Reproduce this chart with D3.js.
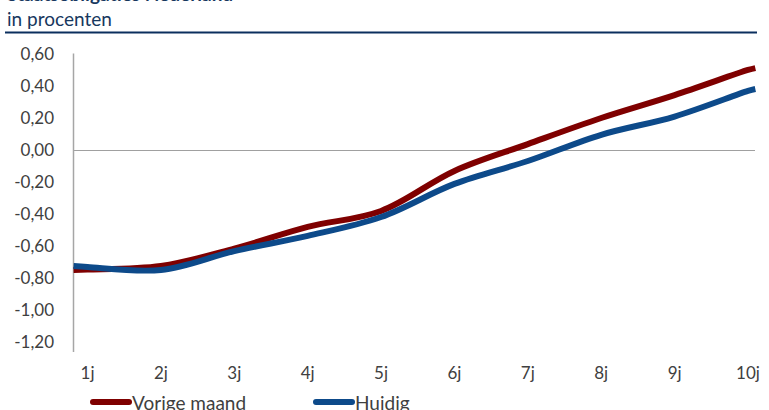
<!DOCTYPE html>
<html>
<head>
<meta charset="utf-8">
<script src="https://cdn.jsdelivr.net/npm/d3@7"></script>
<style>
  html, body { margin: 0; padding: 0; background: #fff; }
  svg { display: block; font-family: Lato, "Open Sans", sans-serif; }
</style>
</head>
<body>
<div class="svg-wrapper"></div>
<script>
title_text = "Staatsobligaties Nederland";
subtitle_text = "in procenten";

// looptijd in jaren
maturities = [0.81, 1, 2, 3, 4, 5, 6, 7, 8, 9, 10, 10.1];
vorige_maand = [-0.753, -0.75, -0.728, -0.62, -0.484, -0.384, -0.134, 0.034, 0.197, 0.34, 0.497, 0.509];
huidig = [-0.728, -0.734, -0.753, -0.635, -0.54, -0.422, -0.215, -0.072, 0.092, 0.206, 0.366, 0.378];

x_ticks = [1, 2, 3, 4, 5, 6, 7, 8, 9, 10];
y_ticks = [0.6, 0.4, 0.2, 0, -0.2, -0.4, -0.6, -0.8, -1.0, -1.2];

series = [
  {name: "Vorige maand", values: vorige_maand, color: "#7f0000"},
  {name: "Huidig", values: huidig, color: "#0d4a8a"}
];

var W = 769, H = 410;
var svg = d3.select(".svg-wrapper").append("svg")
  .attr("width", W)
  .attr("height", H);

var x = d3.scaleLinear().domain([1, 10]).range([87.5, 748]),
    y = d3.scaleLinear().domain([-1.2, 0.6]).range([341.5, 53.5]);

// Nederlandse notatie: komma en gewoon streepje
var fmt = function(v) { return d3.format(".2f")(v).replace("\u2212", "-").replace(".", ","); };

// titel (bovenkant valt buiten beeld)
svg.append("text")
  .attr("x", 7).attr("y", 1)
  .attr("fill", "#17375e")
  .attr("font-weight", "bold")
  .attr("font-size", 19)
  .text(title_text);

svg.append("text")
  .attr("x", 7).attr("y", 26)
  .attr("fill", "#17375e")
  .attr("font-size", 19)
  .text(subtitle_text);

svg.append("line")
  .attr("x1", 5).attr("x2", 757)
  .attr("y1", 32.5).attr("y2", 32.5)
  .attr("stroke", "#0b2f5e")
  .attr("stroke-width", 2);

// nul-lijn
svg.append("line")
  .attr("x1", 73).attr("x2", 755)
  .attr("y1", Math.round(y(0)) + 0.5).attr("y2", Math.round(y(0)) + 0.5)
  .attr("stroke", "#a0a0a0")
  .attr("stroke-width", 1);

// y-as
svg.append("line")
  .attr("x1", 73.5).attr("x2", 73.5)
  .attr("y1", y(0.6)).attr("y2", 352)
  .attr("stroke", "#a6a6a6")
  .attr("stroke-width", 1.5);

svg.append("g").selectAll("text")
  .data(y_ticks)
  .enter().append("text")
  .attr("x", 54)
  .attr("y", function(d) { return y(d) + 1; })
  .attr("dy", "0.35em")
  .attr("text-anchor", "end")
  .attr("fill", "#404040")
  .attr("font-size", 17)
  .text(fmt);

svg.append("g").selectAll("text")
  .data(x_ticks)
  .enter().append("text")
  .attr("x", function(d) { return x(d); })
  .attr("y", 379)
  .attr("text-anchor", "middle")
  .attr("fill", "#404040")
  .attr("font-size", 17)
  .text(function(d) { return d + "j"; });

var line = d3.line()
  .x(function(d, i) { return x(maturities[i]); })
  .y(function(d) { return y(d); })
  .curve(d3.curveCatmullRom.alpha(0.5));

svg.append("g").selectAll("path")
  .data(series)
  .enter().append("path")
  .attr("d", function(d) { return line(d.values); })
  .attr("fill", "none")
  .attr("stroke", function(d) { return d.color; })
  .attr("stroke-width", 6)
  .attr("stroke-linejoin", "round");

// legenda
var legend_x = [93, 316];
var legend = svg.append("g").selectAll("g")
  .data(series)
  .enter().append("g")
  .attr("transform", function(d, i) { return "translate(" + legend_x[i] + ",402)"; });

legend.append("line")
  .attr("x1", 0).attr("x2", 36)
  .attr("stroke", function(d) { return d.color; })
  .attr("stroke-width", 6)
  .attr("stroke-linecap", "round");

legend.append("text")
  .attr("x", 39)
  .attr("y", 8)
  .attr("fill", "#404040")
  .attr("font-size", 19)
  .text(function(d) { return d.name; });
</script>
</body>
</html>
